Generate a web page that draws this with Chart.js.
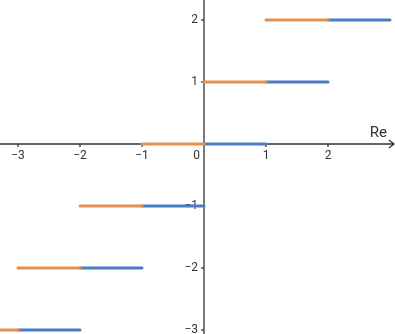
<!DOCTYPE html>
<html>
<head>
<meta charset="utf-8">
<script src="https://cdn.jsdelivr.net/npm/chart.js@4"></script>
<style>
  html, body { margin: 0; padding: 0; background: #fff; }
  #wrap { width: 395px; height: 334px; }
</style>
</head>
<body>
<div id="wrap"><canvas id="stepChart"></canvas></div>
<script>
// step levels and where each piece starts / ends
const levels = [-3, -2, -1, 0, 1, 2];
const orangeStart = [-4, -3, -2, -1, 0, 1];
const orangeEnd = [-3, -2, -1, 0, 1, 2];
const blueStart = [-3, -2, -1, 0, 1, 2];
const blueEnd = [-2, -1, 0, 1, 2, 3];

const xTicks = [-3, -2, -1, 1, 2];
const yTicks = [-3, -2, -1, 1, 2];
const xTickLabels = ['−3', '−2', '−1', '1', '2'];
const yTickLabels = ['−3', '−2', '−1', '1', '2'];

const ORANGE = '#e6904f';
const BLUE = '#4a7dc1';
const AXIS = '#333333';

// points with a null between each piece so the line breaks
function pieces(starts, ends) {
    const pts = [];
    levels.forEach((lv, i) => {
        pts.push({ x: starts[i], y: lv });
        pts.push({ x: ends[i], y: lv });
        pts.push({ x: ends[i], y: null });
    });
    return pts;
}

const axesPlugin = {
    id: 'centerAxes',
    beforeDatasetsDraw(chart) {
        const { ctx, chartArea: a, scales: { x, y } } = chart;
        const x0 = x.getPixelForValue(0);
        const y0 = y.getPixelForValue(0);
        ctx.save();
        ctx.strokeStyle = AXIS;
        ctx.fillStyle = AXIS;
        ctx.lineWidth = 1.3;

        // x axis with arrow
        ctx.beginPath();
        ctx.moveTo(a.left, y0);
        ctx.lineTo(a.right - 1, y0);
        ctx.moveTo(a.right - 6, y0 - 4);
        ctx.lineTo(a.right - 1, y0);
        ctx.lineTo(a.right - 6, y0 + 4);
        ctx.stroke();

        // y axis
        ctx.beginPath();
        ctx.moveTo(x0, a.top);
        ctx.lineTo(x0, a.bottom);
        ctx.stroke();

        ctx.font = '12px Roboto, "DejaVu Sans", sans-serif';

        // x ticks
        ctx.textAlign = 'center';
        ctx.textBaseline = 'top';
        xTicks.forEach((v, i) => {
            const px = x.getPixelForValue(v);
            ctx.beginPath();
            ctx.moveTo(px, y0);
            ctx.lineTo(px, y0 + 3);
            ctx.stroke();
            ctx.fillText(xTickLabels[i], px, y0 + 6);
        });
        ctx.textAlign = 'right';
        ctx.fillText('0', x0 - 4, y0 + 6);

        // y ticks
        ctx.textBaseline = 'middle';
        yTicks.forEach((v, i) => {
            const py = y.getPixelForValue(v);
            ctx.beginPath();
            ctx.moveTo(x0 - 3, py);
            ctx.lineTo(x0, py);
            ctx.stroke();
            ctx.fillText(yTickLabels[i], x0 - 6, py);
        });

        // axis name
        ctx.font = '15px Roboto, "DejaVu Sans", sans-serif';
        ctx.textAlign = 'right';
        ctx.textBaseline = 'bottom';
        ctx.fillText('Re', a.right - 8, y0 - 3);
        ctx.restore();
    }
};

new Chart(document.getElementById('stepChart'), {
    type: 'line',
    data: {
        datasets: [
            {
                label: 'orange',
                data: pieces(orangeStart, orangeEnd),
                borderColor: ORANGE,
                borderWidth: 3,
                borderCapStyle: 'round',
                pointRadius: 0,
                spanGaps: false
            },
            {
                label: 'blue',
                data: pieces(blueStart, blueEnd),
                borderColor: BLUE,
                borderWidth: 3,
                borderCapStyle: 'round',
                pointRadius: 0,
                spanGaps: false
            }
        ]
    },
    options: {
        responsive: true,
        maintainAspectRatio: false,
        animation: false,
        layout: { padding: 0 },
        plugins: { legend: { display: false }, tooltip: { enabled: false } },
        scales: {
            x: { type: 'linear', min: -204 / 62, max: 191 / 62, display: false },
            y: { type: 'linear', min: -190 / 62, max: 144 / 62, display: false }
        }
    },
    plugins: [axesPlugin]
});
</script>
</body>
</html>
